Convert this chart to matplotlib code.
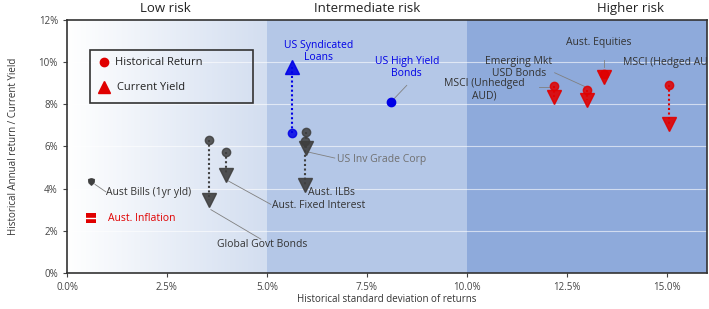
import matplotlib.pyplot as plt
import numpy as np
from matplotlib.colors import LinearSegmentedColormap

plt.rcParams['font.family'] = ['Open Sans', 'DejaVu Sans']

# asset data (%)
names = ["Aust Bills (1yr yld)", "Global Govt Bonds", "Aust. Fixed Interest",
         "US Syndicated\nLoans", "US Inv Grade Corp", "Aust. ILBs",
         "US High Yield\nBonds", "MSCI (Unhedged\nAUD)", "Emerging Mkt\nUSD Bonds",
         "Aust. Equities", "MSCI (Hedged AUD)"]
std_dev = [0.6, 3.55, 3.97, 5.63, 5.98, 5.95, 8.1, 12.18, 13.0, 13.43, 15.05]
hist_return = [4.35, 6.3, 5.75, 6.65, 6.7, 6.25, 8.1, 8.85, 8.7, 9.45, 8.9]
current_yield = [4.3, 3.45, 4.65, 9.75, 5.95, 4.15, 8.1, 8.35, 8.2, 9.3, 7.05]
groups = ["grey", "grey", "grey", "blue", "grey", "grey", "blue", "red", "red", "red", "red"]

inflation_x = 0.6
inflation_y = 2.6

bands = [(0, 5, "Low risk"), (5, 10, "Intermediate risk"), (10, 16, "Higher risk")]
xticks = [0, 2.5, 5, 7.5, 10, 12.5, 15]
yticks = [0, 2, 4, 6, 8, 10, 12]

col = {"grey": "#3f3f3f", "blue": "#0000e6", "red": "#e00000"}

fig = plt.figure(figsize=(7.09, 3.09), dpi=100)
ax = fig.add_axes([0.0945, 0.117, 0.902, 0.818])

# background bands
grad = LinearSegmentedColormap.from_list("g", ["#ffffff", "#d3def0"])
ax.imshow(np.linspace(0, 1, 200).reshape(1, -1), cmap=grad, aspect="auto",
          extent=[0, 5, 0, 12], zorder=0)
ax.axvspan(5, 10, color="#b4c7e7", zorder=0, lw=0)
ax.axvspan(10, 16, color="#8eaadb", zorder=0, lw=0)
for y in yticks[1:-1]:
    ax.axhline(y, color="white", lw=0.8, alpha=0.6, zorder=0.5)

for lo, hi, lab in bands:
    cx = {"Low risk": 2.45, "Intermediate risk": 7.5, "Higher risk": 14.1}[lab]
    ax.text(cx, 12.25, lab, ha="center", va="bottom", fontsize=9.5, color="#222222")

for x, h, c, g in zip(std_dev, hist_return, current_yield, groups):
    cc = col[g]
    if abs(h - c) > 0.3:
        ax.plot([x, x], [h, c], ls=(0, (1, 1.2)), color=cc, lw=1.5, zorder=2)
    if g == "blue" and abs(h - c) < 0.1:
        ax.plot(x, h, "o", color=cc, ms=6, zorder=3)
        continue
    small = abs(h - c) < 0.1
    ax.plot(x, c, "v" if c < h else "^", color=cc, ms=5 if small else 10, zorder=3, alpha=0.9)
    ax.plot(x, h, "o", color=cc, ms=4 if small else 6, zorder=4, alpha=0.85)

# inflation marker
ax.plot(inflation_x, inflation_y, "s", color="#e00000", ms=7, mew=0, zorder=3)
ax.plot([inflation_x - 0.13, inflation_x + 0.13], [inflation_y, inflation_y],
        color="white", lw=1, zorder=4)
ax.text(1.03, inflation_y, "Aust. Inflation", color="#e00000", fontsize=7.5,
        va="center", ha="left")

# labels (text pos, leader line)
lab_pos = [(0.98, 3.8, "left", (0.7, 4.2), (0.97, 3.85)),
           (3.75, 1.33, "left", (3.6, 3.0), (4.85, 1.6)),
           (5.12, 3.2, "left", (4.0, 4.4), (5.1, 3.25)),
           (6.3, 10.5, "center", None, None),
           (6.75, 5.4, "left", (6.0, 5.75), (6.7, 5.45)),
           (7.2, 3.8, "right", None, None),
           (8.5, 9.75, "center", (8.5, 8.9), (8.1, 8.1)),
           (10.45, 8.7, "center", (11.8, 8.8), (12.05, 8.8)),
           (11.3, 9.75, "center", (12.2, 9.5), (12.95, 8.85)),
           (13.3, 10.95, "center", (13.43, 10.1), (13.43, 9.75)),
           (13.9, 10.0, "left", None, None)]
for name, g, (tx, ty, ha, p0, p1) in zip(names, groups, lab_pos):
    tc = {"grey": "#333333", "blue": "#0000e6", "red": "#333333"}[g]
    if name == "US Inv Grade Corp":
        tc = "#707070"
    ax.text(tx, ty, name, ha=ha, va="center", fontsize=7.5, color=tc,
            linespacing=1.2, zorder=5, clip_on=True)
    if p0 is not None:
        ax.plot([p0[0], p1[0]], [p0[1], p1[1]], color="#808080", lw=0.6, zorder=1)

# legend box
ax.plot(0.93, 10.0, "o", color="#e00000", ms=6)
ax.plot(0.93, 8.82, "^", color="#e00000", ms=8)
ax.text(1.2, 10.0, "Historical Return", va="center", fontsize=8, color="#222222")
ax.text(1.25, 8.82, "Current Yield", va="center", fontsize=8, color="#222222")
ax.add_patch(plt.Rectangle((0.58, 8.06), 4.08, 2.5, fill=False, ec="#333333", lw=1.2, zorder=5))

ax.set_xlim(0, 16)
ax.set_ylim(0, 12)
ax.set_xticks(xticks)
ax.set_xticklabels([f"{t:.1f}%" for t in xticks])
ax.set_yticks(yticks)
ax.set_yticklabels([f"{t}%" for t in yticks])
ax.tick_params(labelsize=7, colors="#444444", length=3)
for s in ax.spines.values():
    s.set_color("#333333")
    s.set_linewidth(1.2)
ax.set_xlabel("Historical standard deviation of returns", fontsize=7, color="#333333", labelpad=1)
ax.set_ylabel("Historical Annual return / Current Yield", fontsize=7, color="#333333", labelpad=14)

fig.savefig("out.png", dpi=100)
